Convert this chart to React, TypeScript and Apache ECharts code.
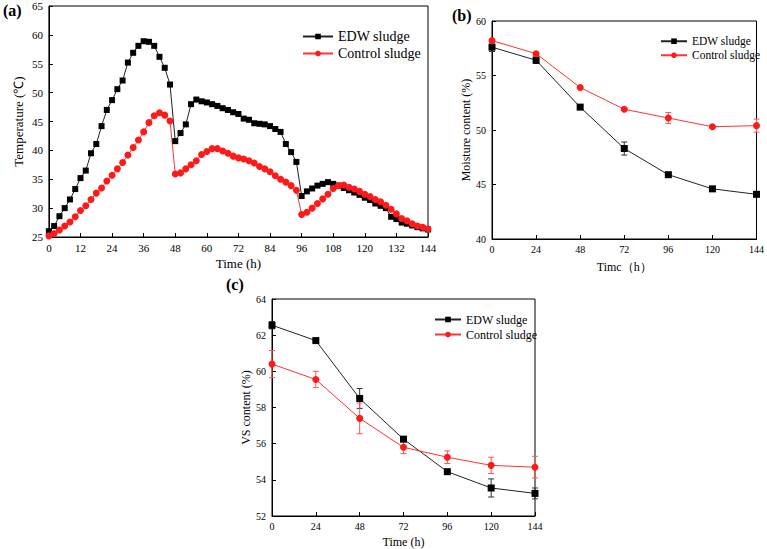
import React, { useEffect, useRef } from "react";
import * as echarts from "echarts";

const SERIF = "'Liberation Serif', 'Times New Roman', serif";
const NAME_EDW = "EDW sludge";
const NAME_CTRL = "Control sludge";

// Panel (a): temperature, every 2 h
const tA = [0, 2, 4, 6, 8, 10, 12, 14, 16, 18, 20, 22, 24, 26, 28, 30, 32, 34, 36, 38, 40, 42, 44, 46, 48, 50, 52, 54, 56, 58, 60, 62, 64, 66, 68, 70, 72, 74, 76, 78, 80, 82, 84, 86, 88, 90, 92, 94, 96, 98, 100, 102, 104, 106, 108, 110, 112, 114, 116, 118, 120, 122, 124, 126, 128, 130, 132, 134, 136, 138, 140, 142, 144];
const tempEDW = [26.0, 26.9, 28.6, 30.0, 31.5, 33.3, 35.2, 36.5, 39.5, 41.1, 44.2, 47.0, 48.7, 50.6, 52.1, 55.2, 56.9, 58.1, 58.9, 58.8, 58.1, 56.2, 54.3, 51.4, 41.6, 43.0, 44.5, 48.0, 48.8, 48.5, 48.3, 48.0, 47.7, 47.3, 47.0, 46.6, 46.3, 45.5, 45.3, 44.7, 44.6, 44.5, 44.2, 43.7, 43.2, 41.1, 39.7, 38.0, 32.1, 32.9, 33.4, 33.9, 34.2, 34.5, 34.2, 33.9, 33.5, 33.1, 32.7, 32.3, 31.8, 31.4, 30.8, 30.4, 30.0, 28.5, 28.1, 27.5, 27.3, 27.0, 26.7, 26.5, 26.3];
const tempCtrl = [25.2, 25.6, 26.2, 26.9, 27.6, 28.5, 29.6, 30.4, 31.5, 32.6, 33.5, 34.7, 35.7, 36.8, 37.9, 39.2, 40.5, 41.8, 43.2, 44.8, 46.0, 46.5, 46.1, 45.1, 35.9, 36.1, 36.8, 37.5, 38.2, 39.3, 39.8, 40.3, 40.3, 39.9, 39.5, 39.0, 38.7, 38.5, 38.2, 37.8, 37.2, 36.8, 36.3, 35.6, 35.0, 34.5, 33.9, 33.1, 28.9, 29.3, 30.0, 30.8, 31.6, 32.4, 33.4, 33.9, 34.0, 33.6, 33.3, 32.9, 32.4, 32.0, 31.5, 31.1, 30.5, 29.8, 29.0, 28.2, 27.8, 27.3, 26.9, 26.7, 26.4];

// Panels (b) and (c): every 24 h
const tBC = [0, 24, 48, 72, 96, 120, 144];
const moistEDW = [57.6, 56.4, 52.1, 48.3, 45.9, 44.6, 44.1];
const moistEDWErr = [0.4, 0.3, 0.2, 0.6, 0.1, 0.1, 0.1];
const moistCtrl = [58.2, 57.0, 53.9, 51.9, 51.1, 50.3, 50.4];
const moistCtrlErr = [0.1, 0.1, 0.1, 0.1, 0.5, 0.1, 0.6];
const vsEDW = [62.55, 61.7, 58.5, 56.25, 54.45, 53.55, 53.25];
const vsEDWErr = [0.2, 0.05, 0.55, 0.1, 0.05, 0.5, 0.3];
const vsCtrl = [60.4, 59.55, 57.4, 55.8, 55.25, 54.8, 54.7];
const vsCtrlErr = [0.75, 0.45, 0.85, 0.35, 0.35, 0.45, 0.6];

const xTicksA = 12;
const xTicksBC = 24;

const BLACK = "#000000";
const RED = "#ff1a1a";

function pairs(xs: number[], ys: number[]) {
  return xs.map((x, i) => [x, ys[i]]);
}

function errData(xs: number[], ys: number[], es: number[]) {
  return xs.map((x, i) => [x, ys[i] - es[i], ys[i] + es[i]]);
}

function errSeries(name: string, idx: number, data: number[][], color: string) {
  return {
    type: "custom",
    name,
    xAxisIndex: idx,
    yAxisIndex: idx,
    data,
    encode: { x: 0, y: [1, 2] },
    z: 1,
    silent: true,
    renderItem: (params: any, api: any) => {
      const x = api.value(0);
      const lo = api.coord([x, api.value(1)]);
      const hi = api.coord([x, api.value(2)]);
      const w = 3;
      const style = { stroke: color, lineWidth: 1 };
      return {
        type: "group",
        children: [
          { type: "line", shape: { x1: lo[0], y1: lo[1], x2: hi[0], y2: hi[1] }, style },
          { type: "line", shape: { x1: lo[0] - w, y1: lo[1], x2: lo[0] + w, y2: lo[1] }, style },
          { type: "line", shape: { x1: hi[0] - w, y1: hi[1], x2: hi[0] + w, y2: hi[1] }, style },
        ],
      };
    },
  };
}

function lineSeries(name: string, idx: number, data: number[][], color: string, symbol: string, size: number, lineColor: string) {
  return {
    type: "line",
    name,
    xAxisIndex: idx,
    yAxisIndex: idx,
    data,
    symbol,
    symbolSize: size,
    showAllSymbol: true,
    itemStyle: { color },
    lineStyle: { color: lineColor, width: 1 },
    z: 3,
  };
}

function xAxis(idx: number, interval: number, name: string, nameGap: number, fs: number, nfs: number) {
  return {
    type: "value",
    gridIndex: idx,
    min: 0,
    max: 144,
    interval,
    name,
    nameLocation: "middle",
    nameGap,
    nameTextStyle: { fontFamily: SERIF, fontSize: nfs, fontWeight: "normal", color: BLACK },
    axisLine: { show: true, lineStyle: { color: BLACK, width: 1 } },
    axisTick: { show: true, inside: true, length: 4, lineStyle: { color: BLACK } },
    axisLabel: { fontFamily: SERIF, fontSize: fs, color: BLACK, margin: 5 },
    splitLine: { show: false },
  };
}

function yAxis(idx: number, min: number, max: number, interval: number, name: string, nameGap: number, fs: number, nfs: number) {
  return {
    type: "value",
    gridIndex: idx,
    min,
    max,
    interval,
    name,
    nameLocation: "middle",
    nameGap,
    nameTextStyle: { fontFamily: SERIF, fontSize: nfs, fontWeight: "normal", color: BLACK },
    axisLine: { show: true, lineStyle: { color: BLACK, width: 1 } },
    axisTick: { show: true, inside: true, length: 4, lineStyle: { color: BLACK } },
    axisLabel: { fontFamily: SERIF, fontSize: fs, color: BLACK, margin: 6 },
    splitLine: { show: false },
  };
}

function legend(left: number, top: number, fs: number, gap: number, iw: number) {
  return {
    data: [NAME_EDW, NAME_CTRL],
    orient: "vertical",
    left,
    top,
    itemWidth: iw,
    itemHeight: 7,
    itemGap: gap,
    itemTextGap: 2,
    textStyle: { fontFamily: SERIF, fontSize: fs, fontWeight: "normal", color: BLACK, lineHeight: fs + 1 },
    selectedMode: false,
  };
}

export default function App() {
  const ref = useRef<HTMLDivElement>(null);
  useEffect(() => {
    document.body.style.margin = "0";
    if (!ref.current) return;
    const chart = echarts.init(ref.current, undefined, { renderer: "svg" });
    const gridStyle = { show: true, borderColor: BLACK, borderWidth: 1, backgroundColor: "transparent", containLabel: false };
    chart.setOption({
      animation: false,
      backgroundColor: "#ffffff",
      textStyle: { fontFamily: SERIF },
      grid: [
        { ...gridStyle, left: 42, top: 6, width: 386, height: 231 },
        { ...gridStyle, left: 492, top: 21, width: 273, height: 218 },
        { ...gridStyle, left: 272, top: 299, width: 263, height: 220 },
      ],
      xAxis: [
        xAxis(0, xTicksA, "Time (h)", 20, 11, 13),
        xAxis(1, xTicksBC, "Timc（h）", 22, 10, 12),
        xAxis(2, xTicksBC, "Time (h)", 20, 10, 12),
      ],
      yAxis: [
        yAxis(0, 25, 65, 5, "Temperature (℃)", 24, 11, 13),
        yAxis(1, 40, 60, 5, "Moisture content (%)", 19, 10, 12),
        yAxis(2, 52, 64, 2, "VS content (%)", 20, 10, 12),
      ],
      legend: [legend(297, 24, 14, 2, 30), legend(655, 30, 11.5, 1.5, 26), legend(429, 308, 12, 2, 26)],
      graphic: [
        { type: "text", left: 3, top: 2, style: { text: "(a)", fontFamily: SERIF, fontWeight: "bold", fontSize: 16, fill: BLACK } },
        { type: "text", left: 452, top: 7, style: { text: "(b)", fontFamily: SERIF, fontWeight: "bold", fontSize: 16, fill: BLACK } },
        { type: "text", left: 226, top: 276, style: { text: "(c)", fontFamily: SERIF, fontWeight: "bold", fontSize: 16, fill: BLACK } },
      ],
      series: [
        lineSeries(NAME_EDW, 0, pairs(tA, tempEDW), BLACK, "rect", 6, "#222222"),
        lineSeries(NAME_CTRL, 0, pairs(tA, tempCtrl), RED, "circle", 7, "#ff3333"),
        errSeries("errB1", 1, errData(tBC, moistEDW, moistEDWErr), "#333333"),
        errSeries("errB2", 1, errData(tBC, moistCtrl, moistCtrlErr), "#ff5555"),
        lineSeries(NAME_EDW, 1, pairs(tBC, moistEDW), BLACK, "rect", 7, "#222222"),
        lineSeries(NAME_CTRL, 1, pairs(tBC, moistCtrl), RED, "circle", 7, "#ff3333"),
        errSeries("errC1", 2, errData(tBC, vsEDW, vsEDWErr), "#333333"),
        errSeries("errC2", 2, errData(tBC, vsCtrl, vsCtrlErr), "#ff5555"),
        lineSeries(NAME_EDW, 2, pairs(tBC, vsEDW), BLACK, "rect", 7, "#222222"),
        lineSeries(NAME_CTRL, 2, pairs(tBC, vsCtrl), RED, "circle", 7, "#ff3333"),
      ],
    });
    return () => chart.dispose();
  }, []);
  return <div ref={ref} style={{ width: 767, height: 549 }} />;
}
